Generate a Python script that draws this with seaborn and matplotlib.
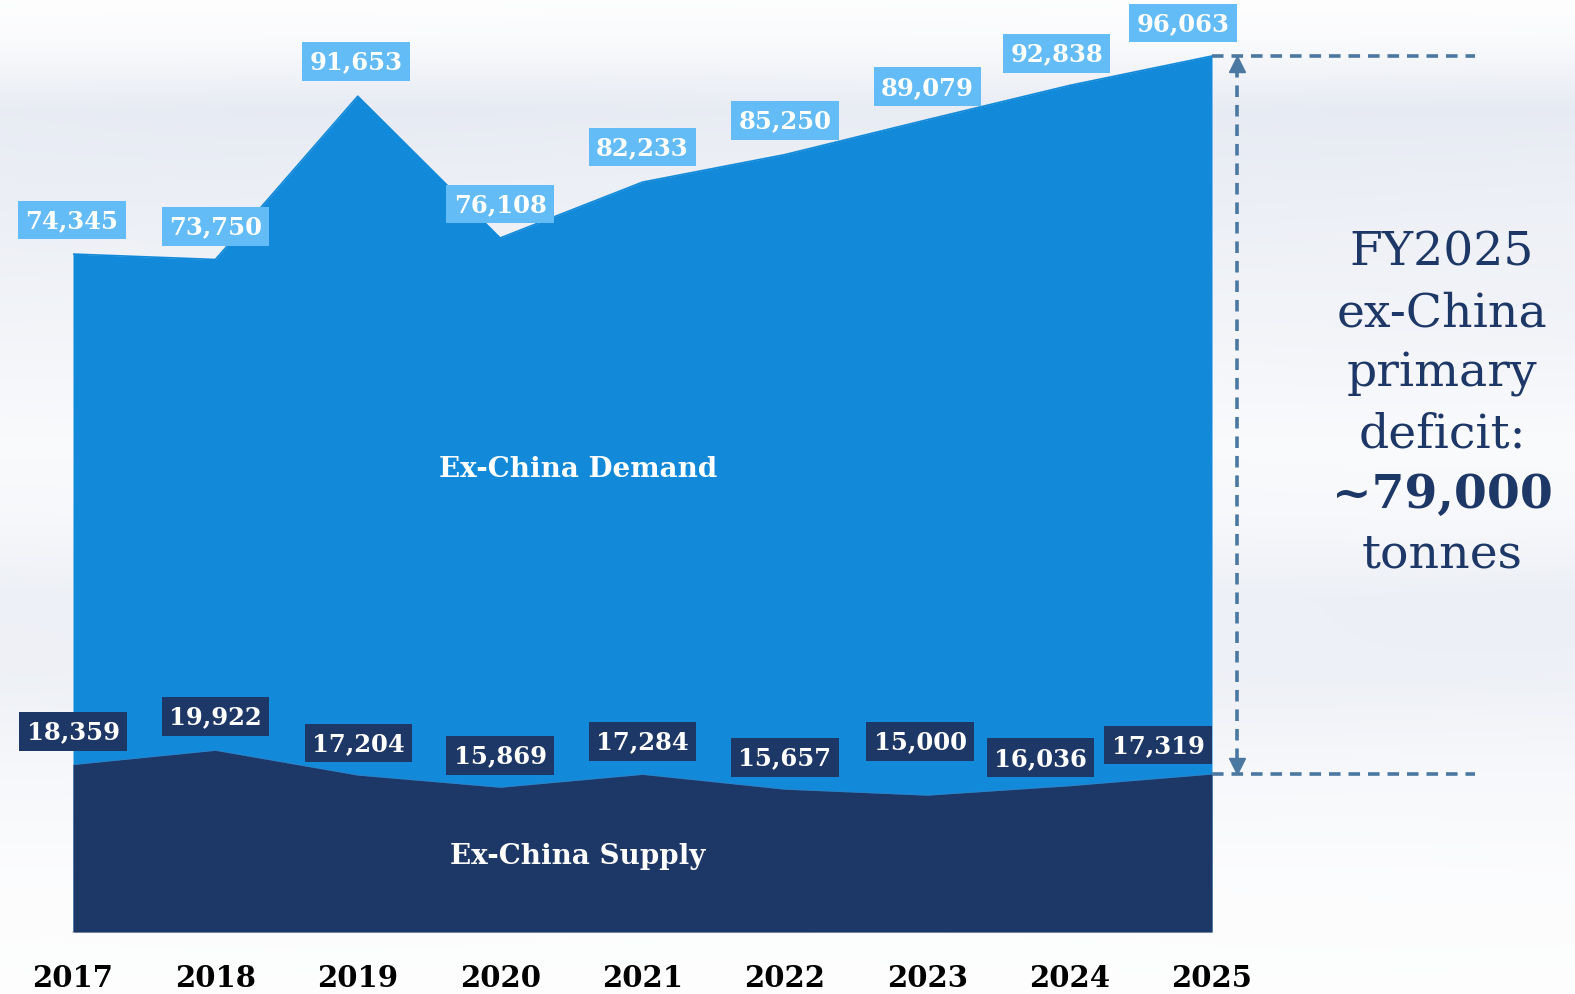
import numpy as np
import pandas as pd
import matplotlib
matplotlib.use("Agg")
import matplotlib.pyplot as plt
import seaborn as sns

# ---- data -------------------------------------------------------------
years = [2017, 2018, 2019, 2020, 2021, 2022, 2023, 2024, 2025]
demand = [74345, 73750, 91653, 76108, 82233, 85250, 89079, 92838, 96063]
supply = [18359, 19922, 17204, 15869, 17284, 15657, 15000, 16036, 17319]
demand_name = "Ex-China Demand"
supply_name = "Ex-China Supply"
callout_lines = ["FY2025", "ex-China", "primary", "deficit:", "~79,000", "tonnes"]

# ---- styling ----------------------------------------------------------
DEMAND_C = "#128ad9"
DEMAND_BOX = "#63bcf5"
SUPPLY_C = "#1d3766"
DASH_C = "#4a78a1"
TEXT_DARK = "#1d3766"
SERIF = ["DejaVu Serif"]

# label offsets from each point, in pixels (dx, dy upward)
demand_off = [(-1, 34), (0, 33), (-2, 35), (0, 34), (0, 35), (0, 34), (0, 33), (-13, 32), (-29, 33)]
supply_off = [(0, 33), (0, 34), (1, 32), (0, 32), (0, 33), (0, 32), (-7, 54), (-29, 28), (-54, 29)]

sns.set_theme(style="white")
plt.rcParams["font.family"] = SERIF

W, H, DPI = 1575, 995, 100
fig = plt.figure(figsize=(W / DPI, H / DPI), dpi=DPI)

# soft sky-like backdrop
bg = fig.add_axes([0, 0, 1, 1], zorder=-5)
ys = np.linspace(0, 1, 400)
stops_y = [0.0, 0.04, 0.11, 0.17, 0.25, 0.33, 0.45, 0.52, 0.60, 0.68, 0.78, 0.88, 1.0]
stops_v = [0.995, 0.985, 0.93, 0.94, 0.95, 0.96, 0.985, 0.975, 0.945, 0.95, 0.975, 0.99, 0.995]
prof = np.interp(ys, stops_y, stops_v)
xs = np.linspace(0, 1, 300)
shade = prof[:, None] + 0.01 * np.sin(xs[None, :] * 9 + ys[:, None] * 23) * (1 - prof[:, None]) * 4
shade = np.clip(shade, 0, 1)
img = np.dstack([shade - (1 - shade) * 0.3, shade - (1 - shade) * 0.1, np.minimum(shade + (1 - shade) * 0.35, 1)])
img = np.clip(img, 0, 1)
bg.imshow(img, aspect="auto", extent=[0, 1, 0, 1], origin="upper", interpolation="bicubic")
bg.set_axis_off()

# main plotting area: x spans the years exactly, y baseline at 0
left, right = 73 / W, 1212 / W
bottom = (H - 933) / H
px_per_unit = 876 / 96063
ymax = 933 / px_per_unit
ax = fig.add_axes([left, bottom, right - left, 1 - bottom])
ax.patch.set_alpha(0)

df = pd.DataFrame({"year": years, "demand": demand, "supply": supply})

ax.fill_between(df["year"], 0, df["demand"], color=DEMAND_C, lw=0, zorder=2)
sns.lineplot(data=df, x="year", y="demand", ax=ax, color=DEMAND_C, lw=1.2, zorder=2)
ax.fill_between(df["year"], 0, df["supply"], color=SUPPLY_C, lw=0, zorder=3)
sns.lineplot(data=df, x="year", y="supply", ax=ax, color="#4f7cb8", lw=0.6, zorder=3, alpha=0.5)

ax.set_xlim(years[0], years[-1])
ax.set_ylim(0, ymax)
ax.set_xlabel("")
ax.set_ylabel("")
ax.set_yticks([])
ax.set_xticks(years)
ax.set_xticklabels([str(y) for y in years], fontsize=21, fontweight="bold", color="black", family=SERIF)
ax.tick_params(axis="x", length=0, pad=22)
for s in ["top", "left", "right"]:
    ax.spines[s].set_visible(False)
ax.spines["bottom"].set_color("#c9ced6")
ax.spines["bottom"].set_linewidth(1.2)

px2pt = 72 / DPI

# value labels
for x, v, (dx, dy) in zip(years, demand, demand_off):
    ax.annotate(f"{v:,}", (x, v), xytext=(dx * px2pt, dy * px2pt), textcoords="offset points",
                ha="center", va="center", fontsize=17.5, fontweight="bold", color="white",
                bbox=dict(boxstyle="square,pad=0.3", fc=DEMAND_BOX, ec="none"),
                annotation_clip=False, zorder=6)
for x, v, (dx, dy) in zip(years, supply, supply_off):
    ax.annotate(f"{v:,}", (x, v), xytext=(dx * px2pt, dy * px2pt), textcoords="offset points",
                ha="center", va="center", fontsize=17.5, fontweight="bold", color="white",
                bbox=dict(boxstyle="square,pad=0.3", fc=SUPPLY_C, ec="none"),
                annotation_clip=False, zorder=6)

# series names inside the areas
mid_x = years[0] + (578 - 73) / 142.4
ax.text(mid_x, (933 - 470) / px_per_unit, demand_name, ha="center", va="center",
        fontsize=20, fontweight="bold", color="white", zorder=5)
ax.text(mid_x, (933 - 857) / px_per_unit, supply_name, ha="center", va="center",
        fontsize=20, fontweight="bold", color="white", zorder=5)

# deficit bracket for the last year
step = years[1] - years[0]
x_end = years[-1] + step * (1475 - 1212) / 142.4
x_arrow = years[-1] + step * (1237 - 1212) / 142.4
dash = dict(color=DASH_C, lw=2.6, ls=(0, (3.2, 2.2)), clip_on=False, zorder=4)
ax.plot([years[-1], x_end], [demand[-1], demand[-1]], **dash)
ax.plot([years[-1], x_end], [supply[-1], supply[-1]], **dash)
head = 14 / px_per_unit
ax.plot([x_arrow, x_arrow], [supply[-1] + head, demand[-1] - head], **dash)
ax.plot([x_arrow], [demand[-1] - head * 0.55], marker="^", ms=11, color=DASH_C, clip_on=False, zorder=4)
ax.plot([x_arrow], [supply[-1] + head * 0.55], marker="v", ms=11, color=DASH_C, clip_on=False, zorder=4)

# callout on the right
cx = 1442 / W
for i, line in enumerate(callout_lines):
    base = 266 + 60.4 * i
    fig.text(cx, 1 - base / H, line, ha="center", va="baseline", fontsize=34,
             fontweight="bold" if line.startswith("~") else "normal", color=TEXT_DARK)

fig.savefig("out.png", dpi=DPI)
